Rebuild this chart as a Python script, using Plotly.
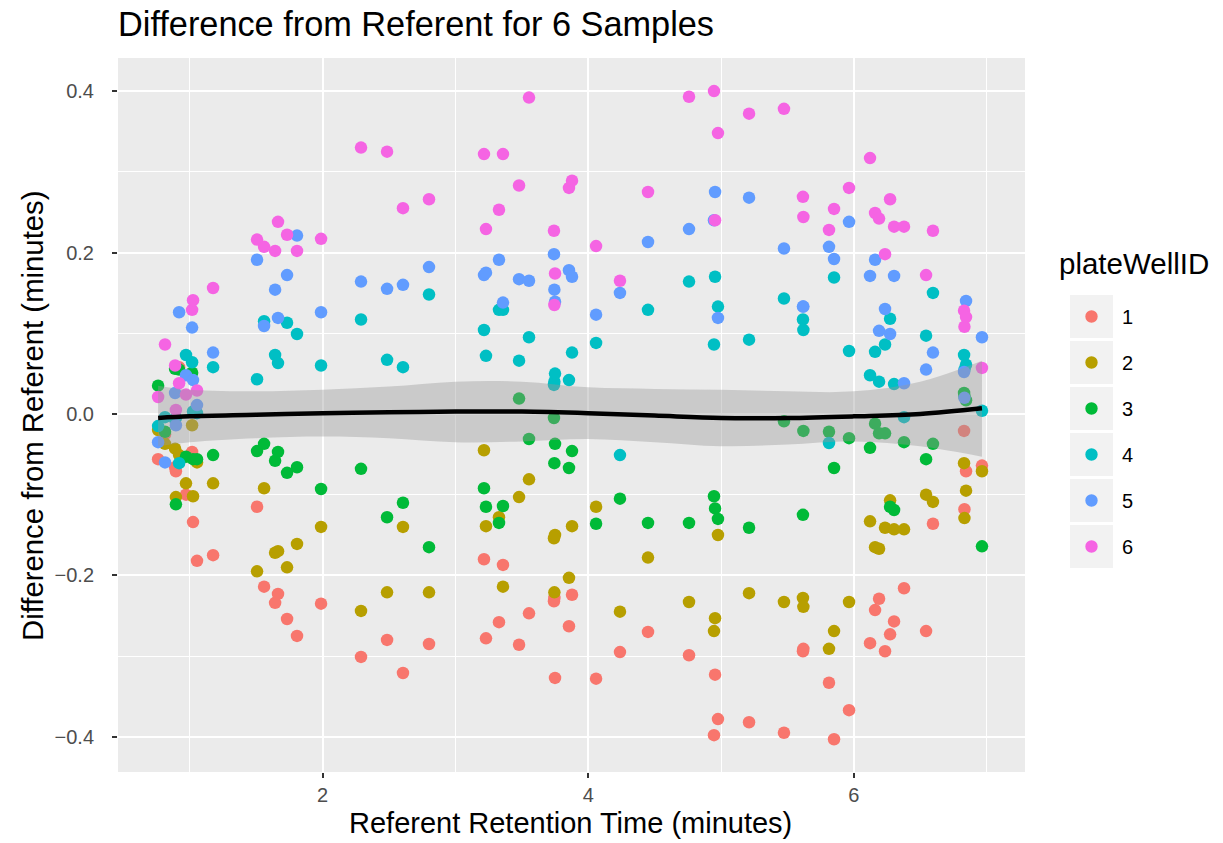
import plotly.graph_objects as go

# ---------------- data ----------------
ids = ["1", "2", "3", "4", "5", "6"]
colors = ["#F8766D", "#B79F00", "#00BA38", "#00BFC4", "#619CFF", "#F564E3"]

rt = [0.761, 0.813, 0.889, 0.895, 0.919, 0.971, 1.017, 1.024, 1.054, 1.175,
      1.506, 1.559, 1.642, 1.664, 1.732, 1.807, 1.988, 2.289, 2.485, 2.605, 2.801,
      3.215, 3.230, 3.328, 3.358, 3.479, 3.554, 3.742, 3.745, 3.750, 3.855, 3.878, 4.059, 4.239,
      4.450, 4.759, 4.947, 4.955, 4.977, 5.211, 5.474, 5.617, 5.620,
      5.813, 5.851, 5.964, 6.122, 6.160, 6.190, 6.235, 6.273, 6.303, 6.378, 6.544, 6.596,
      6.830, 6.833, 6.845, 6.965]

d1 = [-0.056, -0.025, -0.066, -0.071, 0.058, -0.100, -0.047, -0.134, -0.182, -0.175,
      -0.115, -0.214, -0.234, -0.223, -0.254, -0.275, -0.235, -0.301, -0.280, -0.321, -0.285,
      -0.180, -0.278, -0.258, -0.187, -0.286, -0.247, -0.232, -0.228, -0.327, -0.263, -0.224, -0.328, -0.295,
      -0.270, -0.299, -0.398, -0.323, -0.378, -0.382, -0.395, -0.294, -0.291,
      -0.333, -0.403, -0.367, -0.284, -0.243, -0.229, -0.294, -0.273, -0.257, -0.216, -0.269, -0.136,
      -0.021, -0.118, -0.071, -0.064]
d2 = [-0.020, -0.037, -0.043, -0.103, -0.051, -0.086, -0.014, -0.102, -0.060, -0.086,
      -0.195, -0.092, -0.172, -0.170, -0.190, -0.161, -0.140, -0.244, -0.221, -0.140, -0.221,
      -0.045, -0.139, -0.128, -0.214, -0.103, -0.081, -0.154, -0.221, -0.150, -0.203, -0.139, -0.115, -0.245,
      -0.178, -0.233, -0.269, -0.253, -0.150, -0.222, -0.233, -0.228, -0.239,
      -0.291, -0.269, -0.233, -0.133, -0.165, -0.167, -0.141, -0.107, -0.143, -0.143, -0.100, -0.109,
      -0.061, -0.129, -0.095, -0.071]
d3 = [0.035, -0.022, 0.056, -0.112, 0.055, -0.053, 0.051, -0.056, -0.056, -0.051,
      -0.046, -0.037, -0.058, -0.047, -0.073, -0.066, -0.093, -0.068, -0.128, -0.110, -0.165,
      -0.092, -0.115, -0.135, -0.114, 0.019, -0.031, -0.005, -0.061, -0.037, -0.067, -0.046, -0.136, -0.105,
      -0.135, -0.135, -0.102, -0.117, -0.130, -0.141, -0.009, -0.125, -0.021,
      -0.022, -0.067, -0.030, -0.042, -0.012, -0.024, -0.024, -0.115, -0.119, -0.035, -0.056, -0.037,
      0.026, 0.022, 0.017, -0.164]
d4 = [-0.015, -0.004, -0.007, -0.005, -0.061, 0.073, 0.064, 0.003, 0.001, 0.058,
      0.043, 0.115, 0.073, 0.063, 0.113, 0.099, 0.060, 0.117, 0.067, 0.058, 0.148,
      0.104, 0.072, 0.129, 0.129, 0.066, 0.095, 0.036, 0.040, 0.050, 0.042, 0.076, 0.088, -0.051,
      0.129, 0.164, 0.086, 0.170, 0.133, 0.092, 0.143, 0.117, 0.104,
      -0.036, 0.169, 0.078, 0.048, 0.077, 0.040, 0.086, 0.118, 0.037, -0.004, 0.097, 0.150,
      0.073, 0.055, 0.061, 0.004]
d5 = [-0.035, -0.060, 0.026, -0.014, 0.126, 0.048, 0.107, 0.042, 0.011, 0.076,
      0.191, 0.109, 0.154, 0.119, 0.172, 0.221, 0.126, 0.164, 0.155, 0.160, 0.182,
      0.172, 0.175, 0.191, 0.138, 0.167, 0.165, 0.198, 0.154, 0.139, 0.178, 0.170, 0.123, 0.150,
      0.213, 0.229, 0.240, 0.275, 0.119, 0.268, 0.205, 0.133, 0.133,
      0.207, 0.192, 0.238, 0.171, 0.191, 0.103, 0.130, 0.099, 0.171, 0.038, 0.055, 0.076,
      0.052, 0.020, 0.140, 0.095]
d6 = [0.021, 0.086, 0.060, 0.005, 0.038, 0.024, 0.129, 0.141, 0.029, 0.156,
      0.216, 0.207, 0.202, 0.238, 0.222, 0.202, 0.217, 0.330, 0.325, 0.255, 0.266,
      0.322, 0.229, 0.253, 0.322, 0.283, 0.392, 0.227, 0.135, 0.174, 0.280, 0.289, 0.208, 0.165,
      0.275, 0.393, 0.400, 0.240, 0.348, 0.372, 0.378, 0.269, 0.244,
      0.228, 0.254, 0.280, 0.317, 0.249, 0.242, 0.198, 0.266, 0.232, 0.232, 0.172, 0.227,
      0.128, 0.108, 0.120, 0.057]
diffs = [d1, d2, d3, d4, d5, d6]

# loess smooth
smooth_x = [0.761, 1.0, 1.5, 2.0, 2.5, 3.0, 3.5, 4.0, 4.5, 5.0, 5.5, 6.0, 6.5, 6.965]
smooth_y = [-0.005, -0.003, -0.001, 0.001, 0.002, 0.003, 0.003, 0.001, -0.002, -0.005, -0.005, -0.003, 0.000, 0.007]
smooth_lo = [-0.040, -0.035, -0.030, -0.028, -0.030, -0.035, -0.034, -0.031, -0.035, -0.040, -0.038, -0.034, -0.040, -0.053]
smooth_hi = [0.035, 0.030, 0.028, 0.030, 0.034, 0.040, 0.040, 0.033, 0.031, 0.030, 0.028, 0.028, 0.040, 0.066]

title = "Difference from Referent for 6 Samples"
xlab = "Referent Retention Time (minutes)"
ylab = "Difference from Referent (minutes)"
legend_title = "plateWellID"

# ---------------- figure ----------------
W, H = 1223, 843
L, R, T, B = 118, 1025, 58, 772
FONT = "Liberation Sans, Arial, Helvetica, sans-serif"

fig = go.Figure()
for k, col, ys in zip(ids, colors, diffs):
    fig.add_trace(go.Scatter(x=rt, y=ys, mode="markers", name=k,
                             marker=dict(color=col, size=12.5, line=dict(width=0)),
                             showlegend=False, hoverinfo="skip"))

fig.add_trace(go.Scatter(x=smooth_x, y=smooth_lo, mode="lines",
                         line=dict(width=0, shape="spline", color="rgba(0,0,0,0)"),
                         showlegend=False, hoverinfo="skip"))
fig.add_trace(go.Scatter(x=smooth_x, y=smooth_hi, mode="lines", fill="tonexty",
                         fillcolor="rgba(153,153,153,0.4)",
                         line=dict(width=0, shape="spline", color="rgba(0,0,0,0)"),
                         showlegend=False, hoverinfo="skip"))
fig.add_trace(go.Scatter(x=smooth_x, y=smooth_y, mode="lines",
                         line=dict(color="black", width=4.5, shape="spline"),
                         showlegend=False, hoverinfo="skip"))


def px(x):
    return (x - L) / (R - L)


def py(y):
    return (B - y) / (B - T)


shapes = []
annotations = []
# legend
key_tops = [295, 341, 387, 433, 479, 525]
for i, (k, col) in enumerate(zip(ids, colors)):
    t = key_tops[i]
    shapes.append(dict(type="rect", xref="paper", yref="paper",
                       x0=px(1070), x1=px(1113), y0=py(t + 43), y1=py(t),
                       fillcolor="#F2F2F2", line=dict(width=0), layer="below"))
    cy = t + 21.5
    shapes.append(dict(type="circle", xref="paper", yref="paper",
                       x0=px(1091.5 - 6.2), x1=px(1091.5 + 6.2),
                       y0=py(cy + 6.2), y1=py(cy - 6.2),
                       fillcolor=col, line=dict(width=0)))
    annotations.append(dict(text=k, xref="paper", yref="paper", x=px(1120), y=py(cy),
                            xanchor="left", yanchor="middle", showarrow=False,
                            font=dict(size=20, color="black", family=FONT)))
annotations.append(dict(text=legend_title, xref="paper", yref="paper", x=px(1057), y=py(263),
                        xanchor="left", yanchor="middle", showarrow=False,
                        font=dict(size=29.5, color="black", family=FONT)))
# titles
annotations.append(dict(text=title, xref="paper", yref="paper", x=px(116), y=py(24),
                        xanchor="left", yanchor="middle", showarrow=False,
                        font=dict(size=34.3, color="black", family=FONT)))
annotations.append(dict(text=xlab, xref="paper", yref="paper", x=px(570), y=py(841),
                        xanchor="center", yanchor="bottom", showarrow=False,
                        font=dict(size=29, color="black", family=FONT)))
annotations.append(dict(text=ylab, xref="paper", yref="paper", x=px(32), y=py(416),
                        xanchor="center", yanchor="middle", showarrow=False, textangle=-90,
                        font=dict(size=29.3, color="black", family=FONT)))

fig.update_layout(
    width=W, height=H,
    margin=dict(l=L, r=W - R, t=T, b=H - B, pad=0),
    paper_bgcolor="white", plot_bgcolor="#EBEBEB",
    font=dict(family=FONT),
    shapes=shapes, annotations=annotations,
    showlegend=False,
)
fig.update_xaxes(range=[0.459, 7.289], tickvals=[2, 4, 6], ticktext=["2", "4", "6"],
                 showgrid=True, gridcolor="white", gridwidth=2.4,
                 minor=dict(tickvals=[1, 3, 5, 7], showgrid=True, gridcolor="white", gridwidth=1.2),
                 zeroline=False, showline=False,
                 ticks="outside", ticklen=5, tickwidth=2, tickcolor="#333333",
                 ticklabelstandoff=0,
                 tickfont=dict(size=20, color="#4D4D4D", family=FONT))
fig.update_yaxes(range=[-0.4436, 0.441], tickvals=[-0.4, -0.2, 0, 0.2, 0.4], tickformat=".1f",
                 showgrid=True, gridcolor="white", gridwidth=2.4,
                 minor=dict(tickvals=[-0.3, -0.1, 0.1, 0.3], showgrid=True, gridcolor="white", gridwidth=1.2),
                 zeroline=False, showline=False,
                 ticks="outside", ticklen=5, tickwidth=2, tickcolor="#333333",
                 ticklabelstandoff=14,
                 tickfont=dict(size=20, color="#4D4D4D", family=FONT))

fig.write_html("out.html")
